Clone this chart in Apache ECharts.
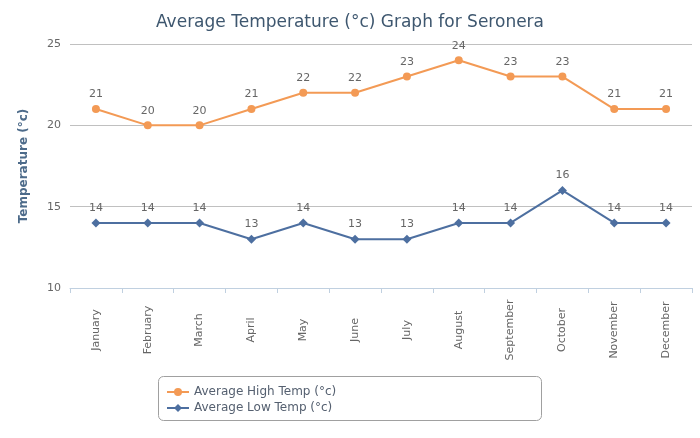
<!DOCTYPE html>
<html><head><meta charset="utf-8">
<script src="https://cdn.jsdelivr.net/npm/echarts@6/dist/echarts.min.js"></script>
<style>html,body{margin:0;padding:0;background:#fff}#c{width:700px;height:438px}</style>
</head><body><div id="c"></div>
<script>
const months = ["January","February","March","April","May","June","July","August","September","October","November","December"];
const highTemps = [21,20,20,21,22,22,23,24,23,23,21,21];
const lowTemps = [14,14,14,13,14,13,13,14,14,16,14,14];
const seriesNames = ["Average High Temp (°c)","Average Low Temp (°c)"];
const titleText = "Average Temperature (°c) Graph for Seronera";
const yAxisName = "Temperature (°c)";

const font = "'DejaVu Sans', sans-serif";
const chart = echarts.init(document.getElementById('c'), null, {renderer:'canvas'});
chart.setOption({
  animation:false,
  backgroundColor:'#fff',
  title:{text:titleText,left:'center',top:9,textStyle:{fontFamily:font,fontSize:17,fontWeight:'normal',color:'#3e576f'}},
  grid:{left:70,right:8,top:44,bottom:150},
  graphic:[{type:'rect',left:158,top:376,shape:{width:383,height:44,r:5},style:{fill:'#fff',stroke:'#a0a0a0',lineWidth:1},z:0}],
  legend:{orient:'vertical',left:161,top:381,itemGap:4,itemWidth:22,itemHeight:10,
    textStyle:{fontFamily:font,fontSize:12,color:'#556070'},
    data:seriesNames},
  xAxis:{type:'category',data:months,boundaryGap:true,
    axisLine:{lineStyle:{color:'#c0d0e0'}},
    axisTick:{show:true,alignWithLabel:false,length:5,lineStyle:{color:'#c0d0e0'}},
    axisLabel:{rotate:90,align:'center',verticalAlign:'middle',fontFamily:font,fontSize:11,color:'#666',margin:42,interval:0}},
  yAxis:{type:'value',min:10,max:25,interval:5,name:yAxisName,nameLocation:'middle',nameGap:40,
    nameTextStyle:{fontFamily:font,fontSize:12,fontWeight:'bold',color:'#4d6b8a'},
    axisLine:{show:false},axisTick:{show:false},
    axisLabel:{fontFamily:font,fontSize:11,color:'#666',margin:9},
    splitLine:{lineStyle:{color:'#c0c0c0'}}},
  series:[
    {name:seriesNames[0],type:'line',data:highTemps,symbol:'circle',symbolSize:8,
      itemStyle:{color:'#f39a55'},lineStyle:{width:2,color:'#f39a55'},
      label:{show:true,position:'top',distance:5,fontFamily:font,fontSize:11,color:'#666'}},
    {name:seriesNames[1],type:'line',data:lowTemps,symbol:'diamond',symbolSize:9,
      itemStyle:{color:'#4d6fa0'},lineStyle:{width:2,color:'#4d6fa0'},
      label:{show:true,position:'top',distance:5,fontFamily:font,fontSize:11,color:'#666'}}
  ]
});
</script></body></html>
